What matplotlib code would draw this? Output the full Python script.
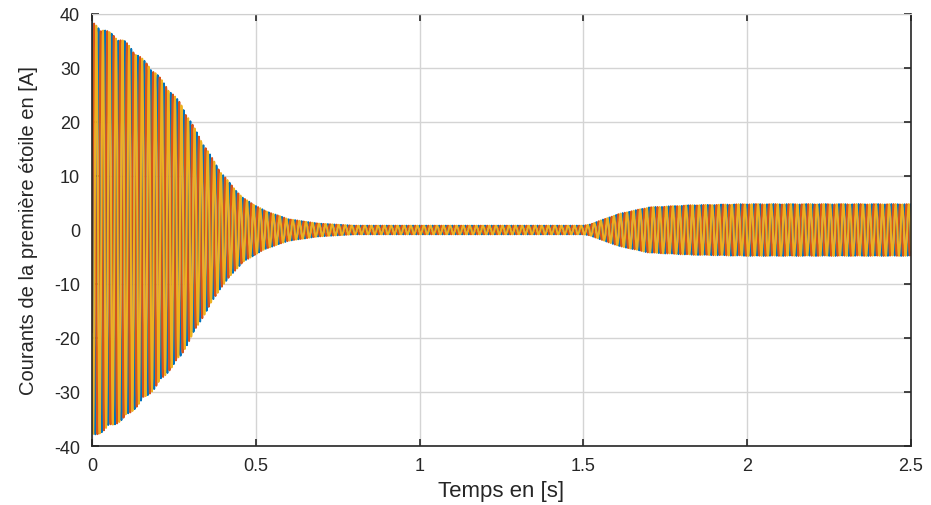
import numpy as np
import matplotlib
matplotlib.use('Agg')
import matplotlib.pyplot as plt

# envelope of the phase currents (t in s, amplitude in A)
env_t = [0.0, 0.1, 0.19, 0.27, 0.33, 0.39, 0.43, 0.46, 0.5, 0.53, 0.6, 0.69,
         0.8, 1.5, 1.52, 1.55, 1.61, 1.7, 1.83, 2.0, 2.5]
env_a = [38.5, 35.0, 29.5, 23.5, 17.0, 11.0, 8.0, 6.0, 4.5, 3.5, 2.0, 1.2,
         0.8, 0.8, 1.0, 1.7, 3.0, 4.2, 4.6, 4.8, 4.8]
freq = 50.0
phases_deg = [90, -30, 210]
colors = ['#0072BD', '#D95319', '#EDB120']
dt = 1.3e-3  # solver output step

xticks = [0, 0.5, 1, 1.5, 2, 2.5]
xticklabels = ['0', '0.5', '1', '1.5', '2', '2.5']
yticks = [-40, -30, -20, -10, 0, 10, 20, 30, 40]

plt.rcParams['font.family'] = ['Liberation Sans', 'DejaVu Sans']
plt.rcParams['axes.unicode_minus'] = False

t = np.arange(0, 2.5 + dt, dt)
amp = np.interp(t, env_t, env_a)

fig = plt.figure(figsize=(9.31, 5.06), dpi=100)
ax = fig.add_axes([0.0988, 0.1166, 0.8797, 0.8538])

for ph, c in zip(phases_deg, colors):
    i = amp * np.sin(2 * np.pi * freq * t + np.deg2rad(ph))
    ax.plot(t, i, color=c, lw=1.4)

ax.set_xlim(0, 2.5)
ax.set_ylim(-40, 40)
ax.set_xticks(xticks)
ax.set_xticklabels(xticklabels)
ax.set_yticks(yticks)
ax.grid(True, color='#d4d4d4', lw=1.0)
ax.set_axisbelow(True)

for s in ['left', 'bottom', 'right']:
    ax.spines[s].set_color('#262626')
    ax.spines[s].set_linewidth(1.2)
ax.spines['top'].set_color('#cfcfcf')
ax.tick_params(direction='in', length=5, width=1.2, color='#262626',
               top=True, right=True, labelsize=13, labelcolor='#262626')
ax.tick_params(axis='x', pad=8)
ax.tick_params(axis='y', pad=8.5)

ax.set_xlabel('Temps en [s]', fontsize=16, color='#262626', labelpad=4)
ax.set_ylabel('Courants de la première étoile en [A]', fontsize=14.5,
              color='#262626', labelpad=12)

fig.savefig('out.png', dpi=100)
